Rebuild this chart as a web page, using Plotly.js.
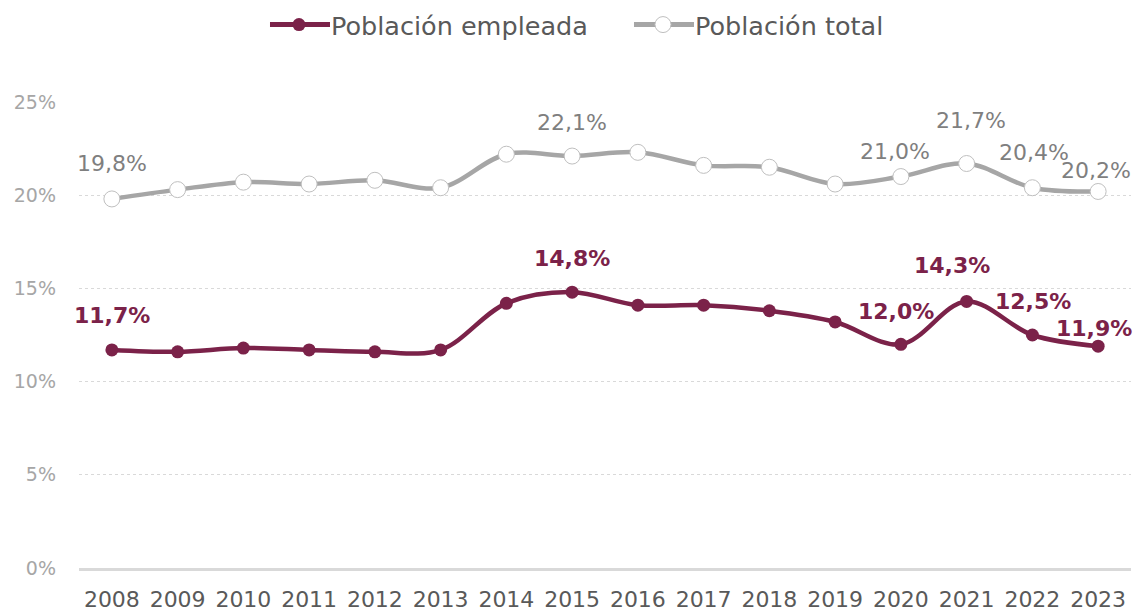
<!DOCTYPE html>
<html>
<head>
<meta charset="utf-8">
<script src="https://cdn.plot.ly/plotly-3.0.1.min.js"></script>
<style>
  html, body { margin: 0; padding: 0; background: #ffffff; }
  #chart { width: 1134px; height: 611px; }
</style>
</head>
<body>
<div id="chart"></div>
<script>
// Years on the category axis
const years = ['2008','2009','2010','2011','2012','2013','2014','2015',
               '2016','2017','2018','2019','2020','2021','2022','2023'];

// Share (%) – employed population
const empleada = [11.7, 11.6, 11.8, 11.7, 11.6, 11.7, 14.2, 14.8,
                  14.1, 14.1, 13.8, 13.2, 12.0, 14.3, 12.5, 11.9];

// Share (%) – total population
const total = [19.8, 20.3, 20.7, 20.6, 20.8, 20.4, 22.2, 22.1,
               22.3, 21.6, 21.5, 20.6, 21.0, 21.7, 20.4, 20.2];

// Years that carry a value label
const labelledYears = ['2008','2015','2020','2021','2022','2023'];

// Label placement (pixel offsets from the point), keyed by year
const empOffsets = {
  '2008': [0, 34], '2015': [0, 34], '2020': [-5, 33],
  '2021': [-15, 36], '2022': [1, 34], '2023': [-4, 18]
};
const totOffsets = {
  '2008': [0, 35], '2015': [0, 34], '2020': [-6, 25],
  '2021': [4, 43], '2022': [2, 35], '2023': [-2, 21]
};

const MAROON = '#7B2249';
const GREY_LINE = '#A6A6A6';
const GREY_TEXT = '#7F7F7F';
const FONT = 'DejaVu Sans, Open Sans, sans-serif';

const fmt = v => v.toFixed(1).replace('.', ',') + '%';

const traces = [
  {
    x: years, y: empleada, name: 'Población empleada',
    type: 'scatter', mode: 'lines+markers',
    line: { color: MAROON, width: 4.5, shape: 'spline', smoothing: 1 },
    marker: { color: MAROON, size: 13, line: { width: 0 } },
    hoverinfo: 'x+y'
  },
  {
    x: years, y: total, name: 'Población total',
    type: 'scatter', mode: 'lines+markers',
    line: { color: GREY_LINE, width: 4.5, shape: 'spline', smoothing: 1 },
    marker: { color: '#ffffff', size: 16, line: { color: '#BFBFBF', width: 1 } },
    hoverinfo: 'x+y'
  }
];

const annotations = [];
labelledYears.forEach(yr => {
  const i = years.indexOf(yr);
  annotations.push({
    x: i, y: empleada[i], xref: 'x', yref: 'y',
    text: '<b>' + fmt(empleada[i]) + '</b>', showarrow: false,
    xanchor: 'center', yanchor: 'middle',
    xshift: empOffsets[yr][0], yshift: empOffsets[yr][1],
    font: { family: FONT, size: 22, color: MAROON }
  });
  annotations.push({
    x: i, y: total[i], xref: 'x', yref: 'y',
    text: fmt(total[i]), showarrow: false,
    xanchor: 'center', yanchor: 'middle',
    xshift: totOffsets[yr][0], yshift: totOffsets[yr][1],
    font: { family: FONT, size: 22, color: GREY_TEXT }
  });
});

const layout = {
  width: 1134, height: 611,
  margin: { l: 79, r: 3, t: 102, b: 43 },
  paper_bgcolor: '#ffffff', plot_bgcolor: '#ffffff',
  font: { family: FONT },
  showlegend: true,
  legend: {
    orientation: 'h', x: 0.1768, xanchor: 'left',
    yref: 'container', y: 1 - 25 / 611, yanchor: 'middle',
    font: { family: FONT, size: 25.5, color: '#595959' },
    itemwidth: 56, entrywidth: 293, entrywidthmode: 'pixels',
    tracegroupgap: 0
  },
  xaxis: {
    type: 'category', range: [-0.5, 15.5],
    showgrid: false, zeroline: false,
    showline: true, linecolor: '#D9D9D9', linewidth: 3,
    ticks: '', ticklabelstandoff: 10,
    tickfont: { family: FONT, size: 22, color: '#595959' },
    fixedrange: true
  },
  yaxis: {
    range: [0, 25], dtick: 5, ticksuffix: '%',
    showgrid: true, gridcolor: '#D9D9D9', gridwidth: 1, griddash: 'dot',
    zeroline: false, showline: false,
    ticks: '', ticklabelstandoff: 22,
    tickfont: { family: FONT, size: 19, color: '#A6A6A6' },
    fixedrange: true
  },
  annotations: annotations
};

Plotly.newPlot('chart', traces, layout, { displayModeBar: false, staticPlot: true })
  .then(gd => {
    // Stretch the legend line samples across the wider symbol slot
    gd.querySelectorAll('.legend .legendlines path').forEach(p => {
      p.setAttribute('d', 'M5,0h60');
      p.style.strokeWidth = '5px';
    });
    gd.querySelectorAll('.legend .legendpoints .scatterpts').forEach(p => {
      p.setAttribute('transform', 'translate(34,0)');
    });
  });
</script>
</body>
</html>
